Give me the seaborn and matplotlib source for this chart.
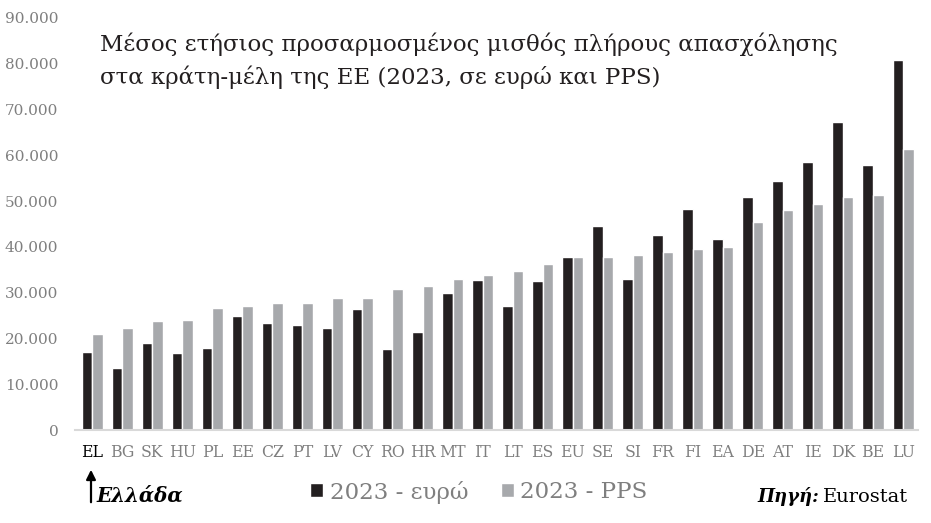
import pandas as pd
import seaborn as sns
import matplotlib.pyplot as plt

# τιμές διαβασμένες από το γράφημα (ευρώ και PPS, 2023)
xores = ['EL', 'BG', 'SK', 'HU', 'PL', 'EE', 'CZ', 'PT', 'LV', 'CY', 'RO', 'HR', 'MT', 'IT',
         'LT', 'ES', 'EU', 'SE', 'SI', 'FR', 'FI', 'EA', 'DE', 'AT', 'IE', 'DK', 'BE', 'LU']
euro = [16970, 13450, 18930, 16820, 17980, 24830, 23370, 22860, 22280, 26360, 17690, 21470, 29860, 32700,
        27090, 32480, 37750, 44490, 32980, 42530, 48270, 41720, 50830, 54320, 58470, 67350, 57820, 80820]
pps = [20970, 22280, 23740, 24030, 26650, 27090, 27670, 27810, 28760, 28900, 30800, 31390, 32920, 33920,
       34800, 36190, 37850, 37720, 38230, 38950, 39470, 39910, 45430, 47990, 49370, 50960, 51260, 61450]
seires = ['2023 - ευρώ', '2023 - PPS']

dados = pd.DataFrame({
    'xora': xores * 2,
    'timi': euro + pps,
    'seira': [seires[0]] * len(xores) + [seires[1]] * len(xores),
})

sns.set_style('white')
plt.rcParams['font.family'] = ['DejaVu Serif']

skouro = '#231f20'
gkri = '#a7a9ac'
keimeno = '#7f7f7f'

fig = plt.figure(figsize=(9.31, 5.23), dpi=100)
ax = fig.add_axes([0.0806, 0.1778, 0.9055, 0.7878])

sns.barplot(data=dados, x='xora', y='timi', hue='seira', palette=[skouro, gkri],
            saturation=1, width=0.7, ax=ax)

ax.set_ylim(0, 90000)
ax.set_xlim(-0.57, 27.5)
ax.set_yticks(range(0, 90001, 10000))
ax.set_yticklabels([f'{v:,}'.replace(',', '.') for v in range(0, 90001, 10000)])
ax.set_xlabel('')
ax.set_ylabel('')
ax.tick_params(axis='x', length=0, labelsize=11.3, labelcolor=keimeno, pad=10)
ax.tick_params(axis='y', length=0, labelsize=11, labelcolor=keimeno, pad=12)
ax.get_xticklabels()[0].set_color('black')
sns.despine(ax=ax, left=True)
ax.spines['bottom'].set_color('#d9d9d9')
ax.spines['bottom'].set_linewidth(1.5)

sns.move_legend(ax, 'center left', bbox_to_anchor=(310 / 931, 1 - 492 / 523), bbox_transform=fig.transFigure,
                ncol=2, frameon=False, title=None, fontsize=16.5, handlelength=0.57,
                handleheight=0.57, handletextpad=0.3, columnspacing=1.4, labelcolor=keimeno,
                borderpad=0, borderaxespad=0)

fig.text(0.1074, 1 - 51 / 523, 'Μέσος ετήσιος προσαρμοσμένος μισθός πλήρους απασχόλησης',
         fontsize=16.5, color=skouro, va='baseline')
fig.text(0.1074, 1 - 84 / 523, 'στα κράτη-μέλη της ΕΕ (2023, σε ευρώ και PPS)',
         fontsize=16.5, color=skouro, va='baseline')

fig.text(96 / 931, 1 - 502 / 523, 'Ελλάδα', fontsize=14.3, fontweight='bold', fontstyle='italic',
         color='black', va='baseline')
ax.annotate('', xy=(91 / 931, 1 - 467 / 523), xytext=(91 / 931, 1 - 505 / 523),
            xycoords='figure fraction', textcoords='figure fraction',
            arrowprops=dict(arrowstyle='-|>', color='black', lw=1.6, mutation_scale=14))

fig.text(757 / 931, 1 - 502 / 523, 'Πηγή:', fontsize=13, fontweight='bold', fontstyle='italic',
         color='black', va='baseline')
fig.text(823 / 931, 1 - 502 / 523, 'Eurostat', fontsize=14, color='black', va='baseline')

fig.savefig('out.png', dpi=100)
